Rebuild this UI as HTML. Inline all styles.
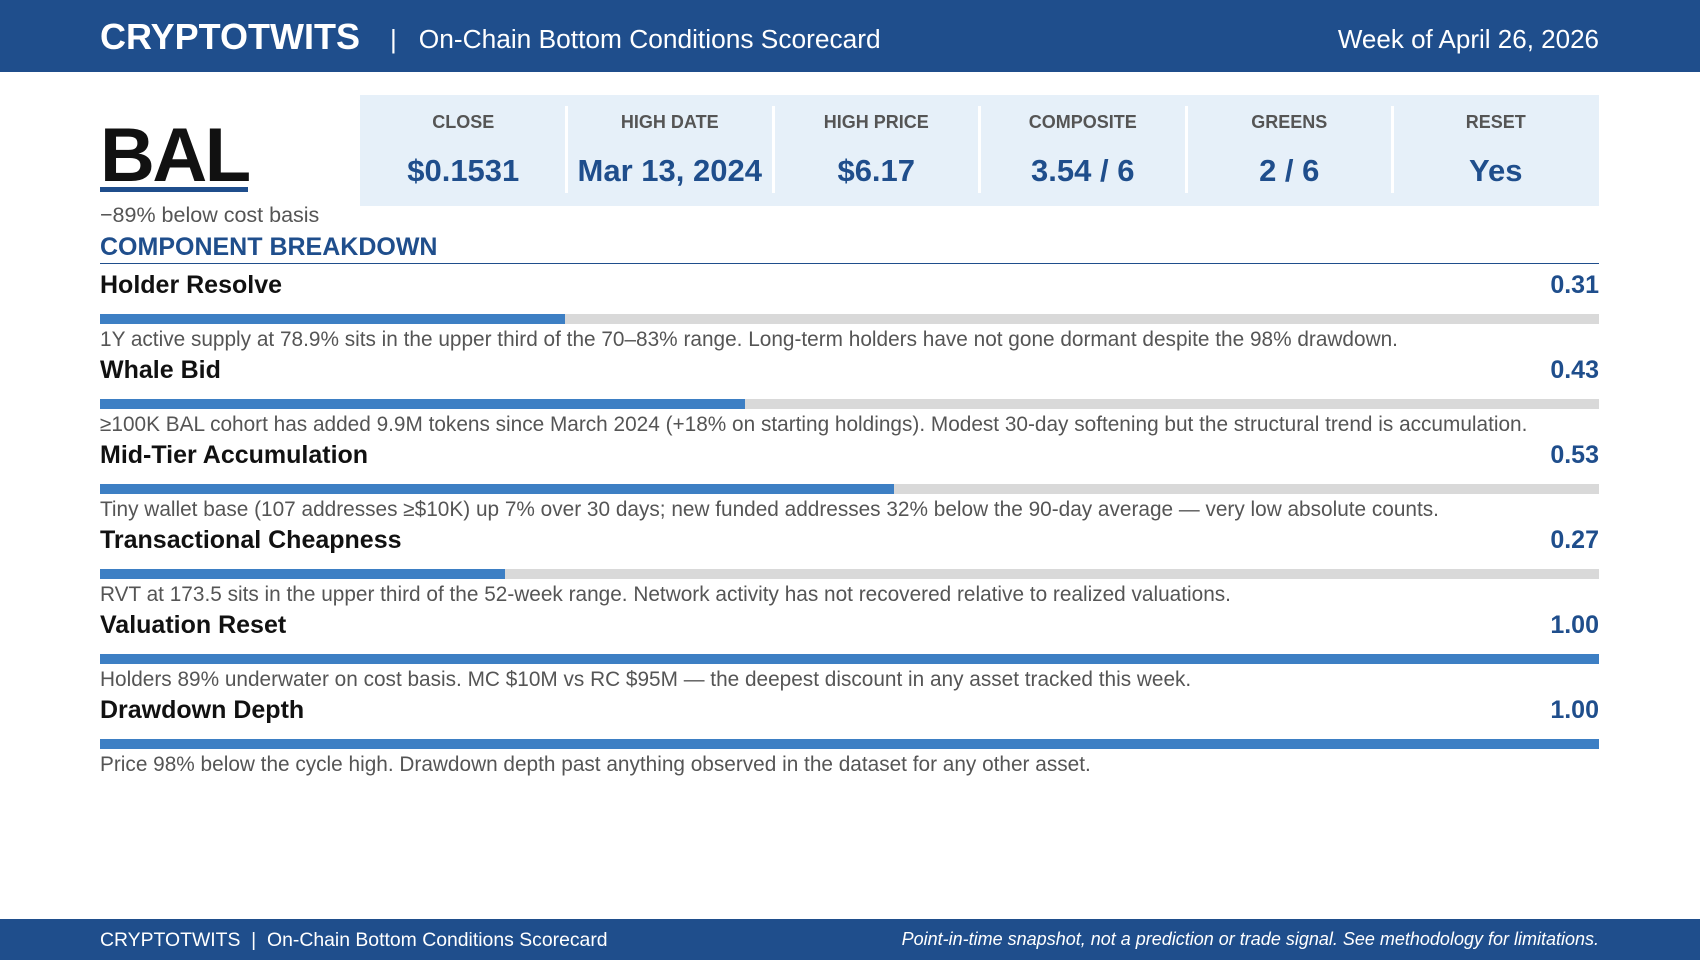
<!DOCTYPE html>
<html><head><meta charset="utf-8"><style>
*{margin:0;padding:0;box-sizing:border-box}
body{width:1700px;height:960px;position:relative;background:#fff;font-family:"Liberation Sans",sans-serif;overflow:hidden}
.abs{position:absolute;white-space:nowrap}
#hdr{left:0;top:0;width:1700px;height:72px;background:#1f4e8c}
#ftr{left:0;top:919px;width:1700px;height:41px;background:#1f4e8c}
.cell{position:absolute;top:0;height:100%;text-align:center}
.lbl{position:absolute;left:0;right:0;top:17px;font-size:18px;font-weight:bold;color:#555}
.val{position:absolute;left:0;right:0;top:58px;font-size:31px;font-weight:bold;color:#1f4e8c}
.sep{position:absolute;top:11px;width:3px;height:87px;background:#fff}
</style></head><body>
<div id="hdr" class="abs"></div>
<div class="abs" style="left:100px;top:16px;font-size:36px;font-weight:bold;color:#fff">CRYPTOTWITS</div>
<div class="abs" style="left:390px;top:24px;font-size:26.3px;color:#fff">|&nbsp;&nbsp; On-Chain Bottom Conditions Scorecard</div>
<div class="abs" style="right:101px;top:24px;font-size:26px;color:#fff">Week of April 26, 2026</div>

<div class="abs" style="left:100px;top:112px;font-size:76px;font-weight:bold;color:#111;letter-spacing:-2.5px">BAL</div>
<div class="abs" style="left:100px;top:187px;width:148px;height:5px;background:#1f4e8c"></div>
<div class="abs" style="left:100px;top:203px;font-size:21.5px;color:#555">−89% below cost basis</div>

<div class="abs" id="stats" style="left:360px;top:95px;width:1239px;height:111px;background:#e6f0f9"></div>

<div class="abs" style="left:100px;top:233px;font-size:25px;font-weight:bold;color:#1f4e8c">COMPONENT BREAKDOWN</div>
<div class="abs" style="left:100px;top:263px;width:1499px;height:1px;background:#1f4e8c"></div>

<div id="rows"></div>

<div id="ftr" class="abs"></div>
<div class="abs" style="left:100px;top:929px;font-size:19.4px;color:#fff">CRYPTOTWITS &nbsp;|&nbsp; On-Chain Bottom Conditions Scorecard</div>
<div class="abs" style="right:101px;top:929px;font-size:18px;color:#fff;font-style:italic">Point-in-time snapshot, not a prediction or trade signal. See methodology for limitations.</div>

<script>
const statLabels=["CLOSE","HIGH DATE","HIGH PRICE","COMPOSITE","GREENS","RESET"];
const statValues=["$0.1531","Mar 13, 2024","$6.17","3.54 / 6","2 / 6","Yes"];
const names=["Holder Resolve","Whale Bid","Mid-Tier Accumulation","Transactional Cheapness","Valuation Reset","Drawdown Depth"];
const scores=[0.31,0.43,0.53,0.27,1.00,1.00];
const notes=["1Y active supply at 78.9% sits in the upper third of the 70–83% range. Long-term holders have not gone dormant despite the 98% drawdown.",
"≥100K BAL cohort has added 9.9M tokens since March 2024 (+18% on starting holdings). Modest 30-day softening but the structural trend is accumulation.",
"Tiny wallet base (107 addresses ≥$10K) up 7% over 30 days; new funded addresses 32% below the 90-day average — very low absolute counts.",
"RVT at 173.5 sits in the upper third of the 52-week range. Network activity has not recovered relative to realized valuations.",
"Holders 89% underwater on cost basis. MC $10M vs RC $95M — the deepest discount in any asset tracked this week.",
"Price 98% below the cycle high. Drawdown depth past anything observed in the dataset for any other asset."];

const stats=document.getElementById('stats');
const cw=1239/statLabels.length;
statLabels.forEach((l,i)=>{
  const c=document.createElement('div');c.className='cell';c.style.left=(i*cw)+'px';c.style.width=cw+'px';
  
  
  c.innerHTML='<div class="lbl">'+l+'</div><div class="val">'+statValues[i]+'</div>';
  stats.appendChild(c);
  if(i>0){const s=document.createElement('div');s.className='sep';s.style.left=(i*cw-1.5)+'px';
  
  
  stats.appendChild(s);}
});

const rows=document.getElementById('rows');
const X0=100,W=1499,Y0=271,DY=84.9;
const xs=v=>W*v;
names.forEach((n,i)=>{
  const y=Y0+i*DY;
  const slug=n.toLowerCase().replace(/ /g,'-');
  const nm=document.createElement('div');nm.className='abs';nm.style.cssText=`left:${X0}px;top:${y}px;font-size:25px;font-weight:bold;color:#111`;nm.textContent=n;
  
  
  rows.appendChild(nm);
  const sv=document.createElement('div');sv.className='abs';sv.style.cssText=`right:101px;top:${y}px;font-size:25px;font-weight:bold;color:#1f4e8c`;sv.textContent=scores[i].toFixed(2);
  
  
  rows.appendChild(sv);
  const tr=document.createElement('div');tr.className='abs';tr.style.cssText=`left:${X0}px;top:${y+43}px;width:${W}px;height:10px;background:#d9d9d9`;
  
  
  rows.appendChild(tr);
  const b=document.createElement('div');b.className='abs';b.style.cssText=`left:${X0}px;top:${y+43}px;width:${xs(scores[i])}px;height:10px;background:#3d7fc4`;
  
  
  rows.appendChild(b);
  const d=document.createElement('div');d.className='abs';d.style.cssText=`left:${X0}px;top:${y+57}px;font-size:20.8px;color:#555`;d.textContent=notes[i];
  
  
  rows.appendChild(d);
});
</script>
</body></html>
